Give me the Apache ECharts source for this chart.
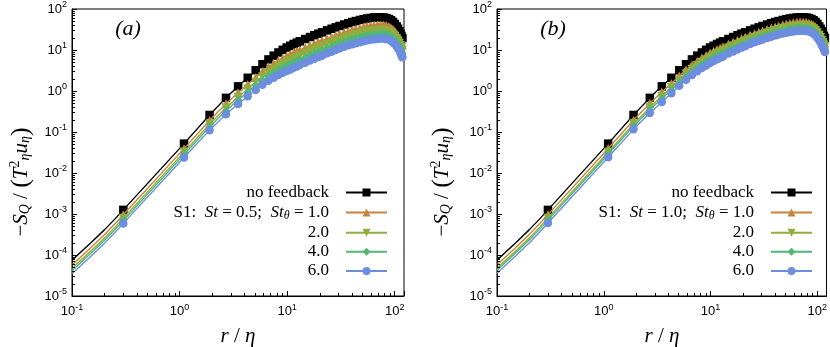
<!DOCTYPE html>
<html><head><meta charset="utf-8">
<script src="https://cdn.jsdelivr.net/npm/echarts@6/dist/echarts.min.js"></script>
<style>html,body{margin:0;padding:0;background:#fff}#c{width:830px;height:347px}</style>
</head><body><div id="c"></div>
<script>
// r/eta positions: line-only points, then marker points
const rPre = [0.1, 0.15, 0.2, 0.25];
const rMark = [0.3,1.1,1.9,2.7,3.5,4.3,5.1,5.9,6.7,7.5,8.3,9.1,9.9,10.7,11.5,12.3,13.1,14.7,16.3,17.9,19.5,21.1,23.5,25.9,28.3,30.7,33.9,37.1,40.3,43.5,47.5,51.5,55.5,59.5,64.3,69.1,73.9,78.7,83.5,88.3,92.3,96.3,100.3,104.3,107.5,110.7,113.1,115.5,117.9];

// -S_Q/(T^2 u) : no feedback (same in both panels)
const noFeedback = [7.5e-5,2.0e-4,4.1e-4,7.5e-4,1.26e-3,0.052,0.26,0.68,1.30,2.10,3.20,4.50,5.89,7.28,8.71,10.1,11.5,12.7,14.0,15.1,16.3,18.5,20.7,22.9,25.0,27.0,30.1,33.0,35.7,38.5,41.9,45.1,48.1,50.8,54.0,56.5,58.7,60.5,62.1,63.0,63.0,62.1,60.1,56.9,53.1,48.4,43.2,37.6,33.0,28.5,25.1,22.1,19.5];
// panel (a): St = 0.5
const aTheta10 = [5.70e-5,1.52e-4,3.12e-4,5.70e-4,9.58e-4,0.0393,0.191,0.488,0.910,1.447,2.147,2.97,3.83,4.66,5.52,6.35,7.18,7.85,8.65,9.33,10.07,11.43,12.92,14.29,15.6,16.85,18.93,20.76,22.63,24.41,26.82,28.86,30.78,32.51,34.56,36.16,37.80,38.96,39.99,40.57,40.95,40.68,39.37,37.61,35.10,31.99,28.81,25.08,22.14,19.32,17.02,14.98,13.22];
const aTheta20 = [4.72e-5,1.26e-4,2.58e-4,4.72e-4,7.93e-4,0.0323,0.154,0.388,0.711,1.117,1.629,2.228,2.839,3.414,4.024,4.596,5.164,5.626,6.202,6.689,7.221,8.196,9.294,10.28,11.23,12.12,13.70,15.02,16.49,17.79,19.65,21.15,22.56,23.83,25.33,26.50,27.88,28.74,29.50,29.93,30.37,30.37,29.39,28.17,26.28,23.96,21.69,18.88,16.80,14.71,12.95,11.40,10.06];
const aTheta40 = [4.15e-5,1.11e-4,2.27e-4,4.15e-4,6.97e-4,0.0282,0.134,0.332,0.601,0.937,1.354,1.832,2.315,2.759,3.240,3.697,4.129,4.483,4.942,5.330,5.754,6.531,7.431,8.221,8.975,9.693,11.02,12.08,13.28,14.32,15.88,17.09,18.23,19.25,20.47,21.41,22.66,23.35,23.97,24.32,24.76,24.84,24.04,23.16,21.61,19.70,17.93,15.60,13.96,12.26,10.79,9.50,8.39];
const aTheta60 = [3.51e-5,9.36e-5,1.92e-4,3.51e-4,5.90e-4,0.0238,0.111,0.271,0.484,0.746,1.059,1.422,1.779,2.097,2.456,2.778,3.094,3.340,3.682,3.971,4.287,4.866,5.568,6.160,6.725,7.263,8.278,9.075,10.07,10.86,12.07,12.99,13.85,14.63,15.55,16.27,17.32,17.85,18.32,18.59,19.03,19.19,18.57,17.98,16.78,15.29,14.00,12.18,10.92,9.66,8.51,7.49,6.61];
// panel (b): St = 1.0
const bTheta10 = [5.75e-5,1.53e-4,3.14e-4,5.75e-4,9.66e-4,0.0395,0.194,0.500,0.949,1.533,2.336,3.285,4.300,5.314,6.358,7.373,8.395,9.347,10.30,11.11,12.00,13.84,15.48,17.13,18.88,20.39,22.88,25.08,27.13,29.26,31.84,34.28,36.56,38.61,41.04,42.94,44.61,45.98,47.20,47.88,47.88,47.20,45.68,43.24,40.36,36.78,32.62,28.39,24.92,21.52,18.95,16.69,14.72];
const bTheta20 = [4.72e-5,1.26e-4,2.58e-4,4.72e-4,7.93e-4,0.0322,0.157,0.398,0.749,1.210,1.843,2.592,3.393,4.193,5.017,5.818,6.624,7.430,8.190,8.834,9.536,11.14,12.46,13.79,15.28,16.50,18.63,20.43,22.10,23.83,25.94,27.92,29.77,31.45,33.43,34.97,36.34,37.45,38.44,39.00,39.00,38.44,37.20,35.22,32.87,29.96,26.40,22.97,20.16,17.41,15.34,13.50,11.91];
const bTheta40 = [4.22e-5,1.13e-4,2.31e-4,4.22e-4,7.09e-4,0.0288,0.139,0.350,0.658,1.063,1.619,2.277,2.980,3.684,4.407,5.111,5.819,6.528,7.196,7.761,8.378,9.861,11.03,12.21,13.58,14.66,16.65,18.25,19.74,21.29,23.17,24.94,26.60,28.09,29.86,31.24,32.46,33.46,34.34,34.84,34.84,34.34,33.24,31.47,29.36,26.77,23.46,20.42,17.92,15.48,13.63,12.00,10.59];
const bTheta60 = [3.59e-5,9.58e-5,1.96e-4,3.59e-4,6.04e-4,0.0243,0.116,0.290,0.542,0.876,1.334,1.877,2.456,3.036,3.632,4.212,4.796,5.423,5.978,6.448,6.960,8.270,9.253,10.24,11.43,12.34,14.09,15.44,16.71,18.02,19.61,21.11,22.51,23.77,25.27,26.44,27.47,28.31,29.06,29.48,29.48,29.06,28.13,26.63,24.85,22.65,19.74,17.18,15.08,13.02,11.47,10.10,8.91];

const namesA = ['no feedback','S1: St = 0.5; Stθ = 1.0','2.0','4.0','6.0'];
const namesB = ['no feedback','S1: St = 1.0; Stθ = 1.0','2.0','4.0','6.0'];
const panelLabels = ['(a)','(b)'];
const xMinorTicks = [0.2,0.3,0.4,0.5,0.6,0.7,0.8,0.9,2,3,4,5,6,7,8,9,20,30,40,50,60,70,80,90];
const yMinorTicks = [2e-5,3e-5,4e-5,5e-5,6e-5,7e-5,8e-5,9e-5,2e-4,3e-4,4e-4,5e-4,6e-4,7e-4,8e-4,9e-4,2e-3,3e-3,4e-3,5e-3,6e-3,7e-3,8e-3,9e-3,0.02,0.03,0.04,0.05,0.06,0.07,0.08,0.09,0.2,0.3,0.4,0.5,0.6,0.7,0.8,0.9,2,3,4,5,6,7,8,9,20,30,40,50,60,70,80,90];

const COLORS = ['#000000','#c4843e','#8fae3e','#50b776','#6d8ddf'];
const SYMBOLS = ['rect','triangle','triangle','diamond','circle'];
const SYM_ROT = [0,0,180,0,0];
const SYM_SIZE = [8.5,9,9,8.5,8.5];

const SERIF = '"Liberation Serif","DejaVu Serif",serif';
const SANS = '"Liberation Sans",Arial,sans-serif';

const rAll = rPre.concat(rMark);
function mkData(vals){
  return rAll.map((r,i)=> i < rPre.length ? {value:[r, vals[i]], symbol:'none'} : [r, vals[i]]);
}
function lineSeries(name, vals, k, gi){
  return {type:'line', name:name, xAxisIndex:gi, yAxisIndex:gi, data:mkData(vals),
    symbol:SYMBOLS[k], symbolSize:SYM_SIZE[k], symbolRotate:SYM_ROT[k], showSymbol:true, showAllSymbol:true,
    color:COLORS[k], lineStyle:{color:COLORS[k], width:1.4}, itemStyle:{color:COLORS[k]},
    animation:false, emphasis:{disabled:true}, z:2+k};
}
function logFmt(v){
  const e = Math.round(Math.log10(v));
  if (Math.abs(Math.log10(v) - e) > 1e-6) return '';
  return '{b|10}{s|' + e + '}';
}
const tickRich = {b:{fontFamily:SANS, fontSize:13, color:'#000'}, s:{fontFamily:SANS, fontSize:9, color:'#000', padding:[0,0,8,0]}};

const series = [];
const seriesSets = [[noFeedback,aTheta10,aTheta20,aTheta40,aTheta60],[noFeedback,bTheta10,bTheta20,bTheta40,bTheta60]];
[namesA, namesB].forEach((names, gi)=>{
  names.forEach((n,k)=> series.push(lineSeries(n, seriesSets[gi][k], k, gi)));
  series.push({type:'custom', xAxisIndex:gi, yAxisIndex:gi, silent:true, animation:false, clip:false, z:20,
    data: xMinorTicks.map(v=>[v, 1e-5]),
    renderItem:(p, api)=>{ const c = api.coord([api.value(0), api.value(1)]); const x = Math.round(c[0])+0.5;
      return {type:'line', shape:{x1:x, y1:c[1], x2:x, y2:c[1]-3}, style:{stroke:'#000', lineWidth:1}}; }});
  series.push({type:'custom', xAxisIndex:gi, yAxisIndex:gi, silent:true, animation:false, clip:false, z:20,
    data: yMinorTicks.map(v=>[0.1, v]),
    renderItem:(p, api)=>{ const c = api.coord([api.value(0), api.value(1)]); const y = Math.round(c[1])+0.5;
      return {type:'line', shape:{x1:c[0], y1:y, x2:c[0]+3, y2:y}, style:{stroke:'#000', lineWidth:1}}; }});
});

const legendRich = {
  rm:{fontFamily:SERIF, fontSize:17, color:'#000', lineHeight:18},
  it:{fontFamily:SERIF, fontSize:17, fontStyle:'italic', color:'#000', lineHeight:18},
  sub:{fontFamily:SERIF, fontSize:12, fontStyle:'italic', color:'#000', padding:[7,0,0,0], lineHeight:18}
};
function legendFmt(name){
  const m = name.match(/^S1: St = ([0-9.]+); Stθ = ([0-9.]+)$/);
  if (m) return '{rm|S1:  }{it|St}{rm| = ' + m[1] + ';  }{it|St}{sub|θ}{rm| = ' + m[2] + '}';
  return '{rm|' + name + '}';
}
function legendCfg(names, right){
  return {data:names, orient:'vertical', align:'right', right:right, top:184, padding:0, itemGap:2.1,
    itemWidth:41, itemHeight:10, selectedMode:false, formatter:legendFmt,
    lineStyle:{width:2}, textStyle:{fontFamily:SERIF, fontSize:17, color:'#000', rich:legendRich, padding:[0,12,0,0]}};
}

const gridDefs = [{left:72, top:9, width:332, height:287},{left:497, top:9, width:331, height:287}];
const axisCommon = {
  axisLine:{show:true, lineStyle:{color:'#000', width:1}},
  axisTick:{show:true, inside:true, length:5, lineStyle:{color:'#000', width:1}},
  splitLine:{show:false}
};

const titleRich = {
  it:{fontFamily:SERIF, fontSize:21, fontStyle:'italic', color:'#000'},
  rm:{fontFamily:SERIF, fontSize:21, color:'#000'},
  big:{fontFamily:SERIF, fontSize:26, color:'#000'},
  sub:{fontFamily:SERIF, fontSize:14, fontStyle:'italic', color:'#000', padding:[9,0,0,0]},
  sup:{fontFamily:SERIF, fontSize:14, color:'#000', padding:[0,0,11,0]}
};
const yTitle = '{rm|−}{it|S}{sub|Q}{rm| / }{big|(}{it|T}{sup|2}{sub|η}{it|u}{sub|η}{big|)}';
const xTitle = '{it|r}{rm| / }{it|η}';
const graphics = [];
[[21,182,238,128],[442,182,662,553]].forEach((p, gi)=>{
  graphics.push({type:'text', x:p[0], y:p[1], rotation:Math.PI/2, style:{text:yTitle, rich:titleRich, align:'center', verticalAlign:'middle'}});
  graphics.push({type:'text', x:p[2], y:336, style:{text:xTitle, rich:titleRich, align:'center', verticalAlign:'middle'}});
  graphics.push({type:'text', x:p[3], y:29, style:{text:panelLabels[gi], fontFamily:SERIF, fontSize:22, fontStyle:'italic', fill:'#000', align:'center', verticalAlign:'middle'}});
});

const option = {
  animation:false,
  backgroundColor:'#fff',
  grid: gridDefs.map(g=>Object.assign({show:true, borderColor:'#000', borderWidth:1, backgroundColor:'transparent'}, g)),
  xAxis: [0,1].map(i=>Object.assign({}, axisCommon, {type:'log', logBase:10, gridIndex:i, min:0.1, max:122,
    axisLabel:{formatter:logFmt, margin:7, rich:tickRich, color:'#000', fontFamily:SANS, fontSize:13}})),
  yAxis: [0,1].map(i=>Object.assign({}, axisCommon, {type:'log', logBase:10, gridIndex:i, min:1e-5, max:100,
    axisLabel:{formatter:logFmt, margin:5, rich:tickRich, color:'#000', fontFamily:SANS, fontSize:13}})),
  legend:[legendCfg(namesA, 442), legendCfg(namesB, 17)],
  graphic: graphics,
  series: series
};
const chart = echarts.init(document.getElementById('c'), null, {renderer:'canvas'});
chart.setOption(option);
</script></body></html>
